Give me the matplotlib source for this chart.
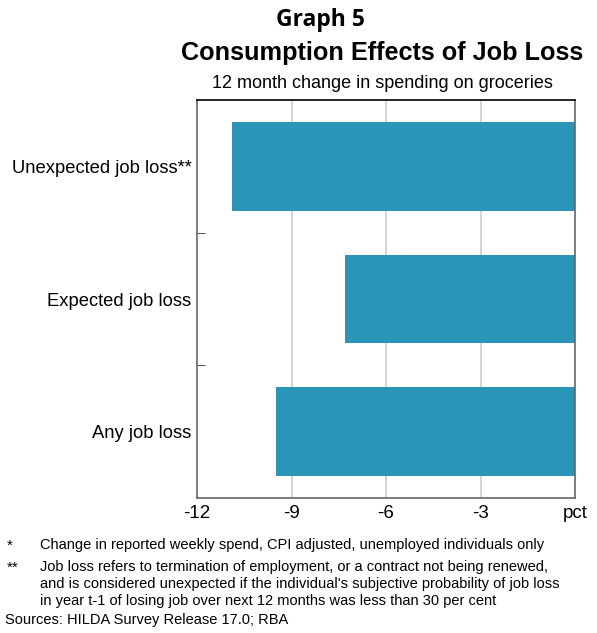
import matplotlib.pyplot as plt
from matplotlib.ticker import FixedLocator

plt.rcParams['font.family'] = ['Liberation Sans', 'DejaVu Sans']

categories = ['Unexpected job loss**', 'Expected job loss', 'Any job loss']
values = [-10.9, -7.3, -9.5]
xticks = [-12, -9, -6, -3, 0]
xticklabels = ['-12', '-9', '-6', '-3', 'pct']
footnotes = [
    ('*', 'Change in reported weekly spend, CPI adjusted, unemployed individuals only'),
    ('**', 'Job loss refers to termination of employment, or a contract not being renewed,'),
    ('', "and is considered unexpected if the individual's subjective probability of job loss"),
    ('', 'in year t-1 of losing job over next 12 months was less than 30 per cent'),
]
source = 'Sources: HILDA Survey Release 17.0; RBA'

fig = plt.figure(figsize=(5.97, 6.33), dpi=100)
ax = fig.add_axes([197/597, 1-498/633, 378/597, 398/633])

ypos = list(range(len(categories)))
ax.barh(ypos, values, height=0.67, color='#2a95b6', zorder=2)

ax.set_xlim(-12, 0)
ax.set_ylim(2.5, -0.5)
ax.set_xticks(xticks)
ax.set_xticklabels(xticklabels, fontsize=13.5)
ax.tick_params(axis='x', length=0, pad=5)
ax.set_yticks(ypos)
ax.set_yticklabels(categories, fontsize=13.2)
ax.tick_params(axis='y', which='major', length=0, pad=4)
ax.yaxis.set_minor_locator(FixedLocator([0.5, 1.5]))
ax.tick_params(axis='y', which='minor', length=6, direction='in', color='#333333')
for x in [-9, -6, -3]:
    ax.axvline(x, color='#cccccc', lw=1.2, zorder=1)

for s in ['left', 'bottom', 'right']:
    ax.spines[s].set_color('#666666')
    ax.spines[s].set_linewidth(1.2)
ax.spines['top'].set_color('black')
ax.spines['top'].set_linewidth(1.2)

fig.text(320/597, 1-20/633, 'Graph 5', ha='center', va='center',
         fontsize=16.5, fontweight='bold', family=['Open Sans', 'DejaVu Sans'])
fig.text(382/597, 1-53/633, 'Consumption Effects of Job Loss', ha='center', va='center',
         fontsize=18.2, fontweight='bold')
fig.text(382/597, 1-84/633, '12 month change in spending on groceries', ha='center',
         va='center', fontsize=13)

y = 545
for mark, line in footnotes:
    if mark:
        fig.text(7/597, 1-(y+1)/633, mark, ha='left', va='center', fontsize=11)
    fig.text(40/597, 1-y/633, line, ha='left', va='center', fontsize=10.5)
    y += 22 if mark == '*' else 17
fig.text(5/597, 1-620/633, source, ha='left', va='center', fontsize=10.5)

fig.savefig('out.png', dpi=100)
